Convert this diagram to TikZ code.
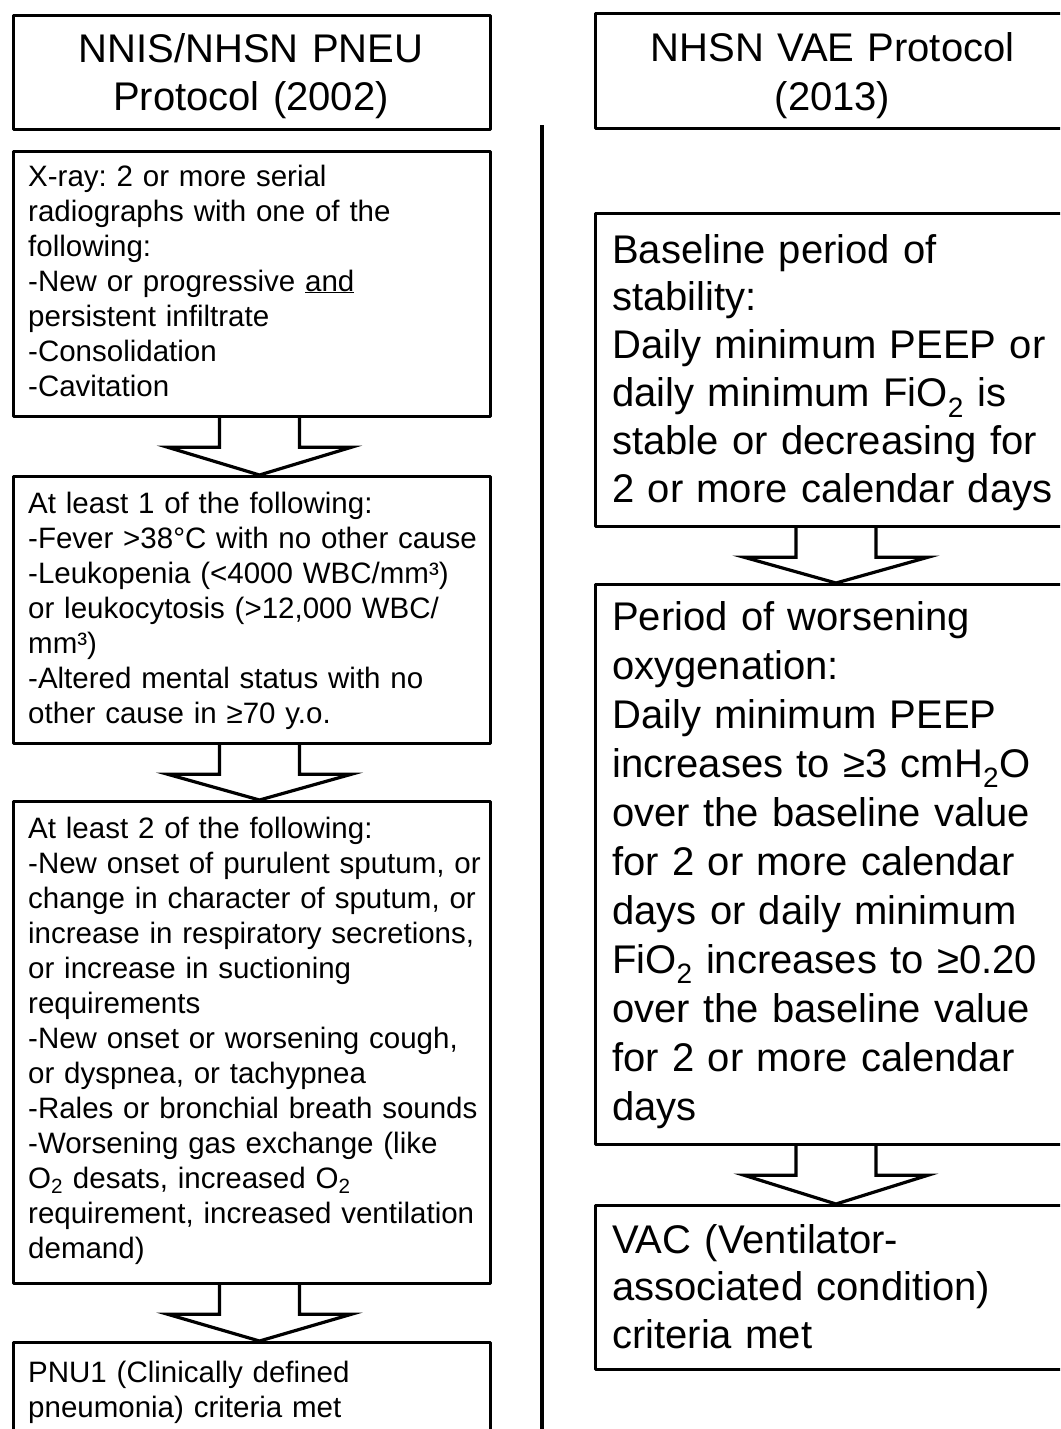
\documentclass[tikz,border=0pt]{standalone}
\usepackage{fontspec}
\setmainfont{Liberation Sans}
\usetikzlibrary{calc}
\frenchspacing
\newcommand\blockarr[3]{%
  \draw[arrowline] let \p1=(#1.south), \p2=(#2.north) in
    ({(#3-40)*1pt},\y1) -- ({(#3-40)*1pt},{\y1-29pt}) -- ({(#3-92)*1pt},{\y1-29pt})
    -- ({#3*1pt},\y2) -- ({(#3+92)*1pt},{\y1-29pt}) -- ({(#3+40)*1pt},{\y1-29pt})
    -- ({(#3+40)*1pt},\y1);%
}
\begin{document}
\frenchspacing
\begin{tikzpicture}[x=1pt,y=-1pt,
  box/.style={draw=black, line width=3.2pt, line join=round, inner sep=0pt, anchor=north west},
  lefttxt/.style={inner sep=0pt, anchor=base west, align=left, text width=470pt, font=\fontsize{29.5}{35}\selectfont\frenchspacing},
  righttxt/.style={inner sep=0pt, anchor=base west, align=left, text width=460pt},
  titletxt/.style={inner sep=0pt, anchor=base, align=center, text width=460pt, font=\fontsize{40}{48}\selectfont\frenchspacing},
  arrowline/.style={draw=black, line width=3.2pt, line join=miter},
  divider/.style={draw=black, line width=4pt}]
\useasboundingbox (0,0) rectangle (1060,1429);
\clip (0,0) rectangle (1060,1429);

% left column boxes
\node[box, minimum width=477pt, minimum height=114pt] (lt) at (11.5,14) {};
\node[box, minimum width=477pt, minimum height=265pt] (l1) at (11.5,150) {};
\node[box, minimum width=477pt, minimum height=267pt] (l2) at (11.5,475) {};
\node[box, minimum width=477pt, minimum height=482pt] (l3) at (11.5,800) {};
\node[box, minimum width=477pt, minimum height=140pt] (l4) at (11.5,1341) {};

% right column boxes
\node[box, minimum width=478pt, minimum height=115pt] (rt) at (593.5,12) {};
\node[box, minimum width=478pt, minimum height=313pt] (r1) at (593.5,212) {};
\node[box, minimum width=478pt, minimum height=560pt] (r2) at (593.5,583) {};
\node[box, minimum width=478pt, minimum height=164pt] (r3) at (593.5,1204) {};

% titles
\node[titletxt] (ltt) at (251,63) {NNIS/NHSN PNEU\\Protocol (2002)};
\node[titletxt] (rtt) at (832.5,62) {NHSN VAE Protocol\\(2013)};

% left texts
\node[lefttxt] (l1t) at (28,186) {X-ray: 2 or more serial\\
radiographs with one of the\\
following:\\
-New or progressive \underline{and}\\
persistent infiltrate\\
-Consolidation\\
-Cavitation};
\node[lefttxt] (l2t) at (28,513) {At least 1 of the following:\\
-Fever >38°C with no other cause\\
-Leukopenia (<4000 WBC/mm³)\\
or leukocytosis (>12,000 WBC/\\
mm³)\\
-Altered mental status with no\\
other cause in ≥70 y.o.};
\node[lefttxt] (l3t) at (28,838) {At least 2 of the following:\\
-New onset of purulent sputum, or\\
change in character of sputum, or\\
increase in respiratory secretions,\\
or increase in suctioning\\
requirements\\
-New onset or worsening cough,\\
or dyspnea, or tachypnea\\
-Rales or bronchial breath sounds\\
-Worsening gas exchange (like\\
O\textsubscript{2} desats, increased O\textsubscript{2}\\
requirement, increased ventilation\\
demand)};
\node[lefttxt] (l4t) at (28,1382) {PNU1 (Clinically defined\\
pneumonia) criteria met};

% right texts
\node[righttxt, font=\fontsize{40}{47.8}\selectfont\frenchspacing] (r1t) at (612,263) {Baseline period of\\
stability:\\
Daily minimum PEEP or\\
daily minimum FiO\textsubscript{2} is\\
stable or decreasing for\\
2 or more calendar days};
\node[righttxt, font=\fontsize{40}{49}\selectfont\frenchspacing] (r2t) at (612,630) {Period of worsening\\
oxygenation:\\
Daily minimum PEEP\\
increases to ≥3 cmH\textsubscript{2}O\\
over the baseline value\\
for 2 or more calendar\\
days or daily minimum\\
FiO\textsubscript{2} increases to ≥0.20\\
over the baseline value\\
for 2 or more calendar\\
days};
\node[righttxt, font=\fontsize{40}{47.5}\selectfont\frenchspacing] (r3t) at (612,1253) {VAC (Ventilator-\\
associated condition)\\
criteria met};

% block arrows
\blockarr{l1}{l2}{259.5}
\blockarr{l2}{l3}{259.5}
\blockarr{l3}{l4}{259.5}
\blockarr{r1}{r2}{836}
\blockarr{r2}{r3}{836}

% divider
\coordinate (dtop) at (542,125);
\coordinate (dbot) at (542,1445);
\draw[divider] (dtop) -- (dbot);
\end{tikzpicture}
\end{document}
